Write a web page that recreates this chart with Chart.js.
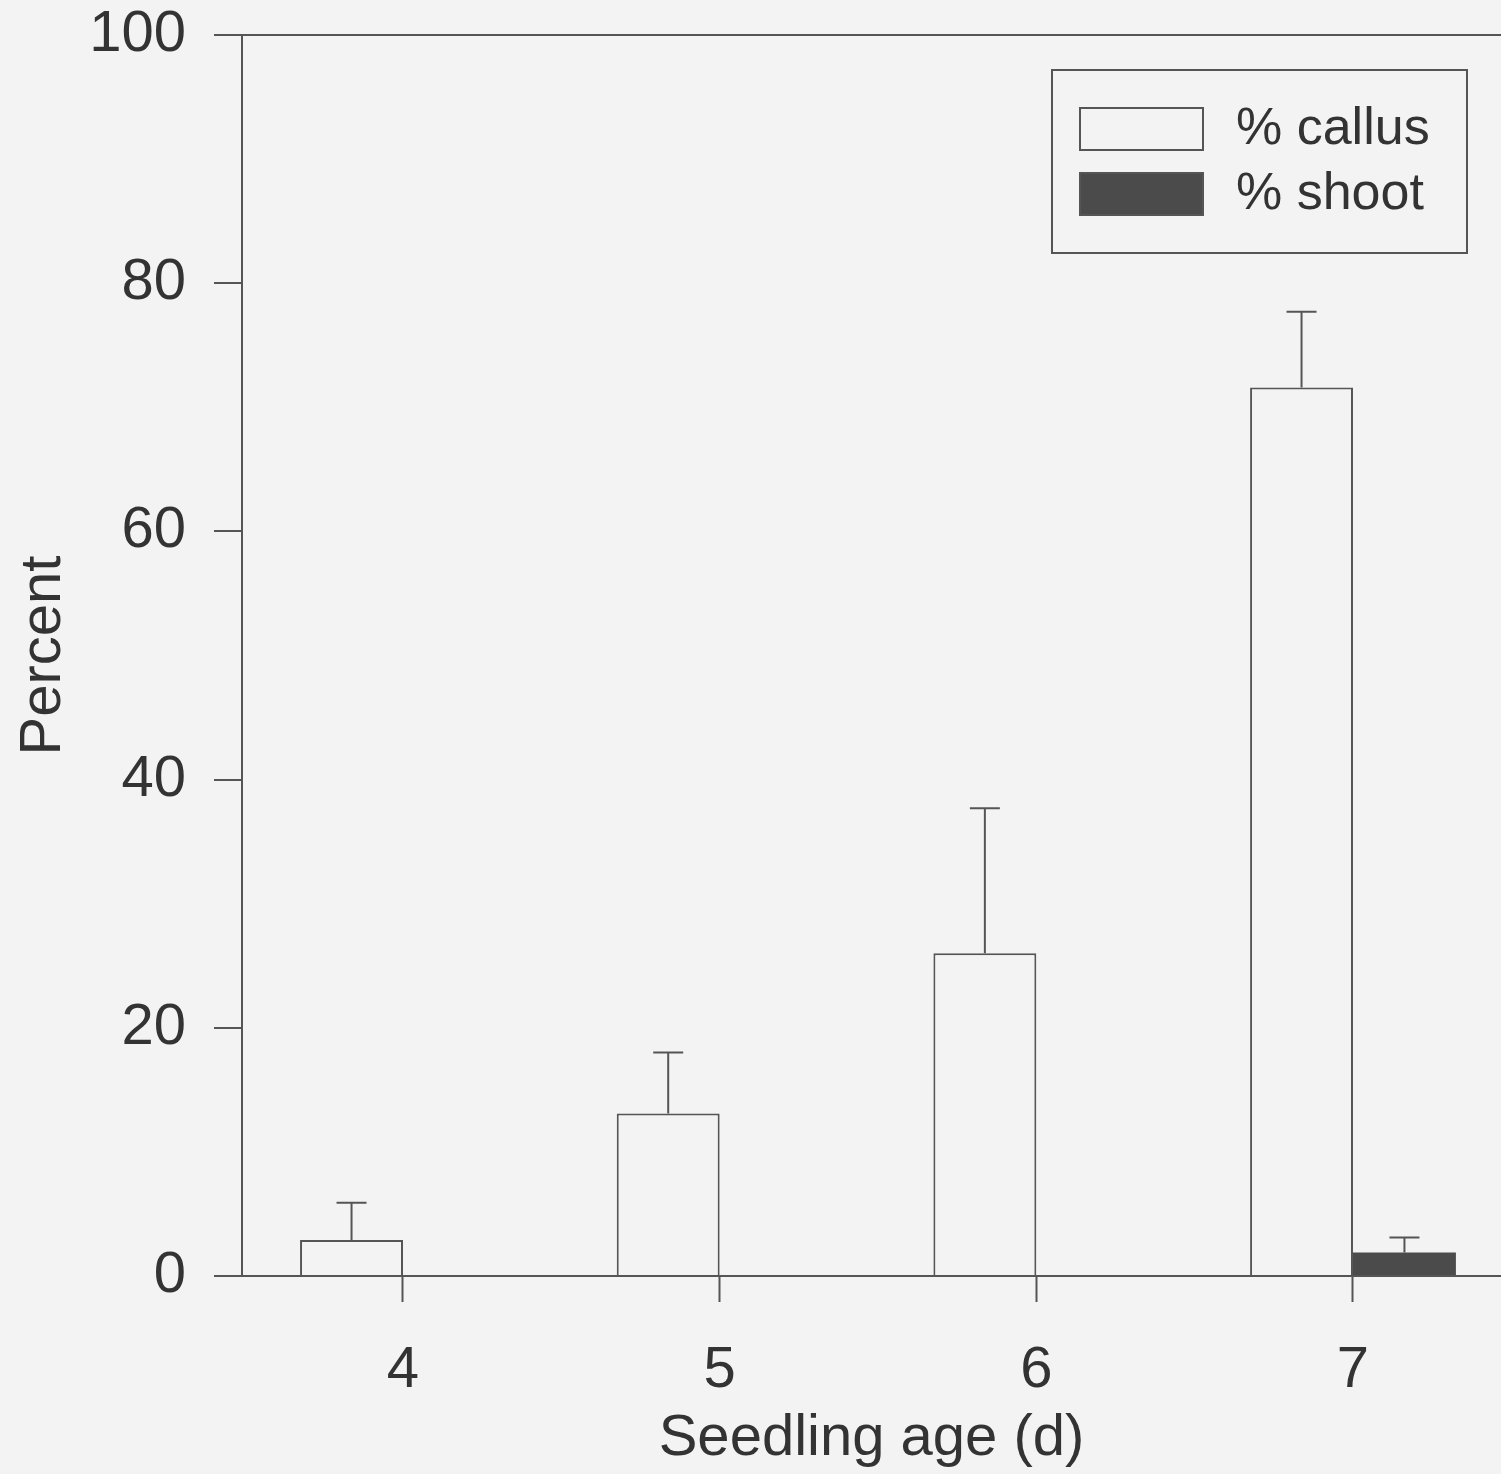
<!DOCTYPE html>
<html>
<head>
<meta charset="utf-8">
<script src="https://cdn.jsdelivr.net/npm/chart.js@4.4.0/dist/chart.umd.min.js"></script>
<style>
  html, body { margin: 0; padding: 0; background: #f3f3f3; overflow: hidden; }
  canvas { display: block; }
</style>
</head>
<body>
<canvas id="chart" width="1501" height="1474"></canvas>
<script>
// seedling age (days)
const ages = [4, 5, 6, 7];
const callus = [2.9, 13.1, 26.0, 71.6];
const callusErr = [3.0, 4.9, 11.7, 6.1];
const shoot = [0, 0, 0, 1.9];
const shootErr = [0, 0, 0, 1.2];
const yTicks = [0, 20, 40, 60, 80, 100];

const lineCol = "#555555";
const textCol = "#333333";
const font = "'Liberation Sans', Arial, sans-serif";

// upper error bars only
const errorBars = {
    id: "errorBars",
    afterDatasetsDraw(chart) {
        const ctx = chart.ctx;
        const y = chart.scales.y;
        ctx.save();
        ctx.strokeStyle = lineCol;
        ctx.lineWidth = 2;
        chart.data.datasets.forEach((ds, i) => {
            chart.getDatasetMeta(i).data.forEach((bar, j) => {
                const err = ds.errors[j];
                if (!err) return;
                const top = y.getPixelForValue(ds.data[j].y + err);
                ctx.beginPath();
                ctx.moveTo(bar.x, bar.y);
                ctx.lineTo(bar.x, top);
                ctx.moveTo(bar.x - 15, top);
                ctx.lineTo(bar.x + 15, top);
                ctx.stroke();
            });
        });
        ctx.restore();
    }
};

// boxed legend in the upper right corner
const boxLegend = {
    id: "boxLegend",
    afterDraw(chart) {
        const ctx = chart.ctx;
        ctx.save();
        ctx.strokeStyle = lineCol;
        ctx.lineWidth = 2;
        ctx.strokeRect(1052, 70, 415, 183);
        chart.data.datasets.forEach((ds, i) => {
            const top = 108 + i * 65;
            ctx.fillStyle = ds.backgroundColor;
            ctx.fillRect(1080, top, 123, 42);
            ctx.strokeStyle = lineCol;
            ctx.strokeRect(1080, top, 123, 42);
            ctx.fillStyle = textCol;
            ctx.font = "52px " + font;
            ctx.textBaseline = "middle";
            ctx.fillText(ds.label, 1236, top + 22);
        });
        ctx.restore();
    }
};

const bg = {
    id: "bg",
    beforeDraw(chart) {
        const ctx = chart.ctx;
        ctx.save();
        ctx.fillStyle = "#f3f3f3";
        ctx.fillRect(0, 0, chart.width, chart.height);
        ctx.restore();
    }
};

new Chart(document.getElementById("chart").getContext("2d"), {
    type: "bar",
    data: {
        datasets: [
            {
                label: "% callus",
                data: ages.map((a, i) => ({ x: a, y: callus[i] })),
                errors: callusErr,
                backgroundColor: "#f3f3f3",
                borderColor: lineCol,
                borderWidth: 2
            },
            {
                label: "% shoot",
                data: ages.map((a, i) => ({ x: a, y: shoot[i] })),
                errors: shootErr,
                backgroundColor: "#4b4b4b",
                borderColor: "#4b4b4b",
                borderWidth: 0
            }
        ]
    },
    options: {
        responsive: false,
        animation: false,
        categoryPercentage: 0.65,
        barPercentage: 1,
        layout: { padding: { top: 35, right: 0, left: 0, bottom: 0 } },
        plugins: {
            legend: { display: false },
            tooltip: { enabled: false }
        },
        scales: {
            x: {
                type: "linear",
                min: 3.4916,
                max: 7.4674,
                offset: false,
                afterBuildTicks: s => { s.ticks = ages.map(v => ({ value: v })); },
                afterFit: s => { s.height = 198; s.paddingLeft = 0; s.paddingRight = 0; },
                ticks: {
                    color: textCol,
                    font: { family: font, size: 58 },
                    padding: 34,
                    maxRotation: 0
                },
                grid: {
                    offset: false,
                    drawOnChartArea: false,
                    tickLength: 26,
                    tickColor: lineCol,
                    tickWidth: 2
                },
                border: { color: lineCol, width: 2 },
                title: {
                    display: true,
                    text: "Seedling age (d)",
                    color: textCol,
                    font: { family: font, size: 58 },
                    padding: { top: 0, bottom: 0 }
                }
            },
            y: {
                min: 0,
                max: 100,
                afterBuildTicks: s => { s.ticks = yTicks.map(v => ({ value: v })); },
                afterFit: s => { s.width = 242; s.paddingTop = 0; s.paddingBottom = 0; },
                ticks: {
                    color: textCol,
                    font: { family: font, size: 58 },
                    padding: 28
                },
                grid: {
                    color: c => c.tick && c.tick.value === 100 ? lineCol : "rgba(0,0,0,0)",
                    lineWidth: 2,
                    tickLength: 28,
                    tickColor: lineCol,
                    tickWidth: 2
                },
                border: { color: lineCol, width: 2 },
                title: {
                    display: true,
                    text: "Percent",
                    color: textCol,
                    font: { family: font, size: 58 },
                    padding: { top: 9, bottom: 10 }
                }
            }
        }
    },
    plugins: [bg, errorBars, boxLegend]
});
</script>
</body>
</html>
